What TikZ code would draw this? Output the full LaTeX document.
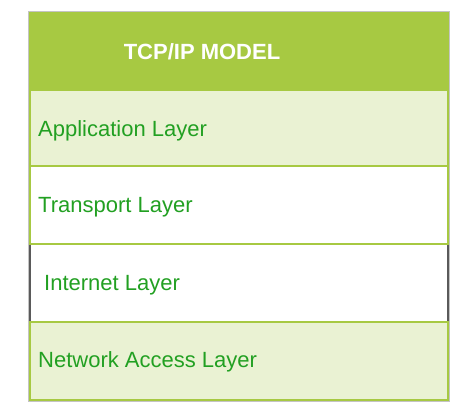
\documentclass[tikz,border=0pt]{standalone}
\usepackage{fontspec}
\setmainfont{Liberation Sans}
\definecolor{hdr}{HTML}{A7C942}
\definecolor{lite}{HTML}{EAF2D3}
\definecolor{txt}{HTML}{22A022}
\definecolor{outer}{HTML}{C4C4C4}
\definecolor{side}{HTML}{5A5A5A}
\begin{document}
\begin{tikzpicture}[x=1pt,y=-1pt,
  rowbox/.style={draw=hdr,line width=1.5pt},
  rowtext/.style={anchor=base west,inner sep=0pt,text=txt,font=\fontsize{22}{24}\selectfont}]
\useasboundingbox (0,0) rectangle (465,409);
% outer thin gray frame
\draw[outer,line width=1pt] (28.5,11.5) rectangle (449.5,401);
% rows
\filldraw[rowbox,fill=hdr] (30,12.5) rectangle (448,90);
\filldraw[rowbox,fill=lite] (30,90) rectangle (448,166);
\filldraw[rowbox,fill=white] (30,166) rectangle (448,244);
\filldraw[rowbox,fill=white] (30,244) rectangle (448,322);
\draw[side,line width=1.5pt] (30,244.8) -- (30,321.2) (448,244.8) -- (448,321.2);
\filldraw[rowbox,fill=lite] (30,322) rectangle (448,400);
% texts
\node[anchor=base,inner sep=0pt,text=white,font=\fontsize{22}{24}\selectfont\bfseries] (title) at (202,60) {TCP/IP MODEL};
\node[rowtext] (app) at (38,136) {Application Layer};
\node[rowtext] (tra) at (38,212) {Transport Layer};
\node[rowtext] (int) at (44,290) {Internet Layer};
\node[rowtext] (net) at (38,367) {Network Access Layer};
\end{tikzpicture}
\end{document}
